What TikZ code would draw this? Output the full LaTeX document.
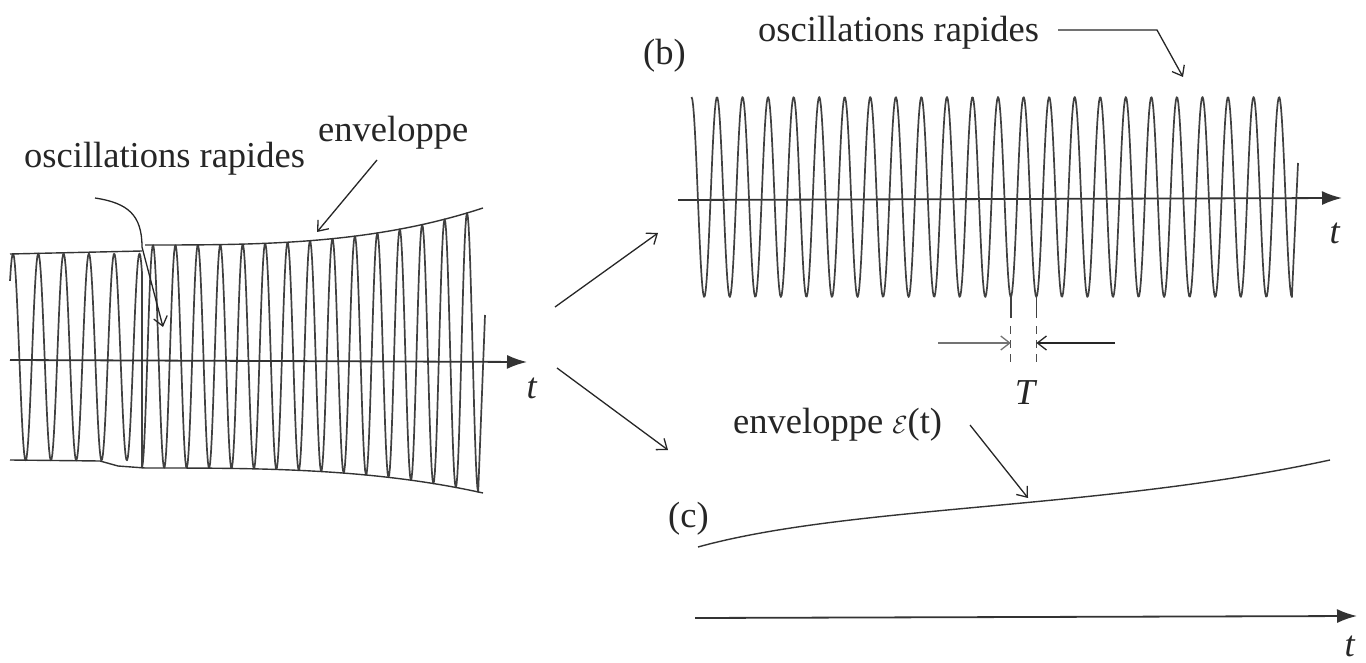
\documentclass[tikz,border=0pt]{standalone}
\usepackage{fontspec}
\setmainfont{Liberation Serif}
\usetikzlibrary{arrows.meta}
\begin{document}
\begin{tikzpicture}[x=1pt,y=-1pt,
  declare function={cu(\t)=(max(\t-145,0)/338)*(max(\t-145,0)/338)*(max(\t-145,0)/338);},
  sig/.style={draw=black!75, line width=1.7pt, line join=round},
  env/.style={draw=black!80, line width=1.4pt},
  axis/.style={draw=black!80, line width=1.8pt, -{Latex[length=20pt,width=14pt]}},
  note/.style={draw=black!85, line width=1.3pt, -{Straight Barb[length=9pt,width=14pt]}},
  lbl/.style={font=\fontsize{36.5}{42}\selectfont, text=black!85, inner sep=0pt},
]
\useasboundingbox (0,0) rectangle (1366,663);

% ---------- left panel ----------
\draw[sig] plot[domain=10:142, samples=160] (\x,{357-103.5*cos(14.2292*(\x-13))})
  -- plot[domain=142:478.2, samples=420] (\x,{356.5-6*cu(\x)-(111.5+31*cu(\x))*cos(16.0499*(\x-153))})
  -- (485,315);
\draw[env] (10,254) -- (142,251);
\draw[env] (10,460) -- (100,461) -- (118,466) -- (145,468);
\draw[env] plot[domain=145:483, samples=40] (\x,{245-37*cu(\x)});
\draw[env] plot[domain=145:483, samples=40] (\x,{468+25*cu(\x)});
\draw[axis] (10,360) -- (527,362);
\node[lbl, anchor=center] (ta) at (532,388) {\textit{t}};

\node[lbl, anchor=base west] (oscA) at (24,168) {oscillations rapides};
\node[lbl, anchor=base west] (envA) at (318,142) {enveloppe};
\coordinate (oscAs) at (95,198);
\coordinate (oscAt) at (163,327);
\draw[note] (oscAs) .. controls (128,203) and (142,215) .. (142,247) -- (oscAt);
\coordinate (envAs) at (377,160);
\coordinate (envAt) at (317,232);
\draw[note] (envAs) -- (envAt);

% ---------- middle arrows ----------
\coordinate (m1s) at (555,307);
\coordinate (m1t) at (658,233);
\coordinate (m2s) at (557,368);
\coordinate (m2t) at (668,450);
\draw[note] (m1s) -- (m1t);
\draw[note] (m2s) -- (m2t);

% ---------- panel (b) ----------
\node[lbl, anchor=base west] (lb) at (643,65) {(b)};
\node[lbl, anchor=base west] (oscB) at (758,42) {oscillations rapides};
\coordinate (oscBm) at (1157,30);
\coordinate (oscBt) at (1183,77);
\draw[note] (1058,30) -- (oscBm) -- (oscBt);
\draw[axis] (678,200) -- (1342,198);
\draw[sig] plot[domain=691.5:1291.9, samples=720] (\x,{197-100*cos(14.0900*(\x-717))})
  -- (1298,163);
\node[lbl, anchor=center] (tb) at (1335,233) {\textit{t}};
\coordinate (b1) at (1010.8,297);
\coordinate (b2) at (1036.4,297);
\draw[sig] (b1) -- (1010.8,318);
\draw[sig] (b2) -- (1036.4,318);
\draw[black!70, line width=1pt, dash pattern=on 8pt off 6pt] (1010.8,326) -- (1010.8,366);
\draw[black!70, line width=1pt, dash pattern=on 8pt off 6pt] (1036.4,326) -- (1036.4,366);
\coordinate (Tl) at (938,343);
\coordinate (Tr) at (1115,343);
\draw[note, draw=black!55] (Tl) -- (1010.8,343);
\draw[note] (Tr) -- (1036.4,343);
\node[lbl, anchor=center] (Tlab) at (1026,393) {\textit{T}};

% ---------- panel (c) ----------
\node[lbl, anchor=base west] (lc) at (668,527) {(c)};
\node[lbl, anchor=base west] (envC) at (733,433) {enveloppe {\fontsize{42}{42}\selectfont$\mathcal{E}$}(t)};
\draw[env] (698,547) .. controls (850,505) and (1100,510) .. (1330,460);
\coordinate (envCs) at (970,425);
\coordinate (envCt) at (1028,498);
\draw[note] (envCs) -- (envCt);
\draw[axis] (695,618) -- (1357,616);
\node[lbl, anchor=center] (tc) at (1350,646) {\textit{t}};
\end{tikzpicture}
\end{document}
